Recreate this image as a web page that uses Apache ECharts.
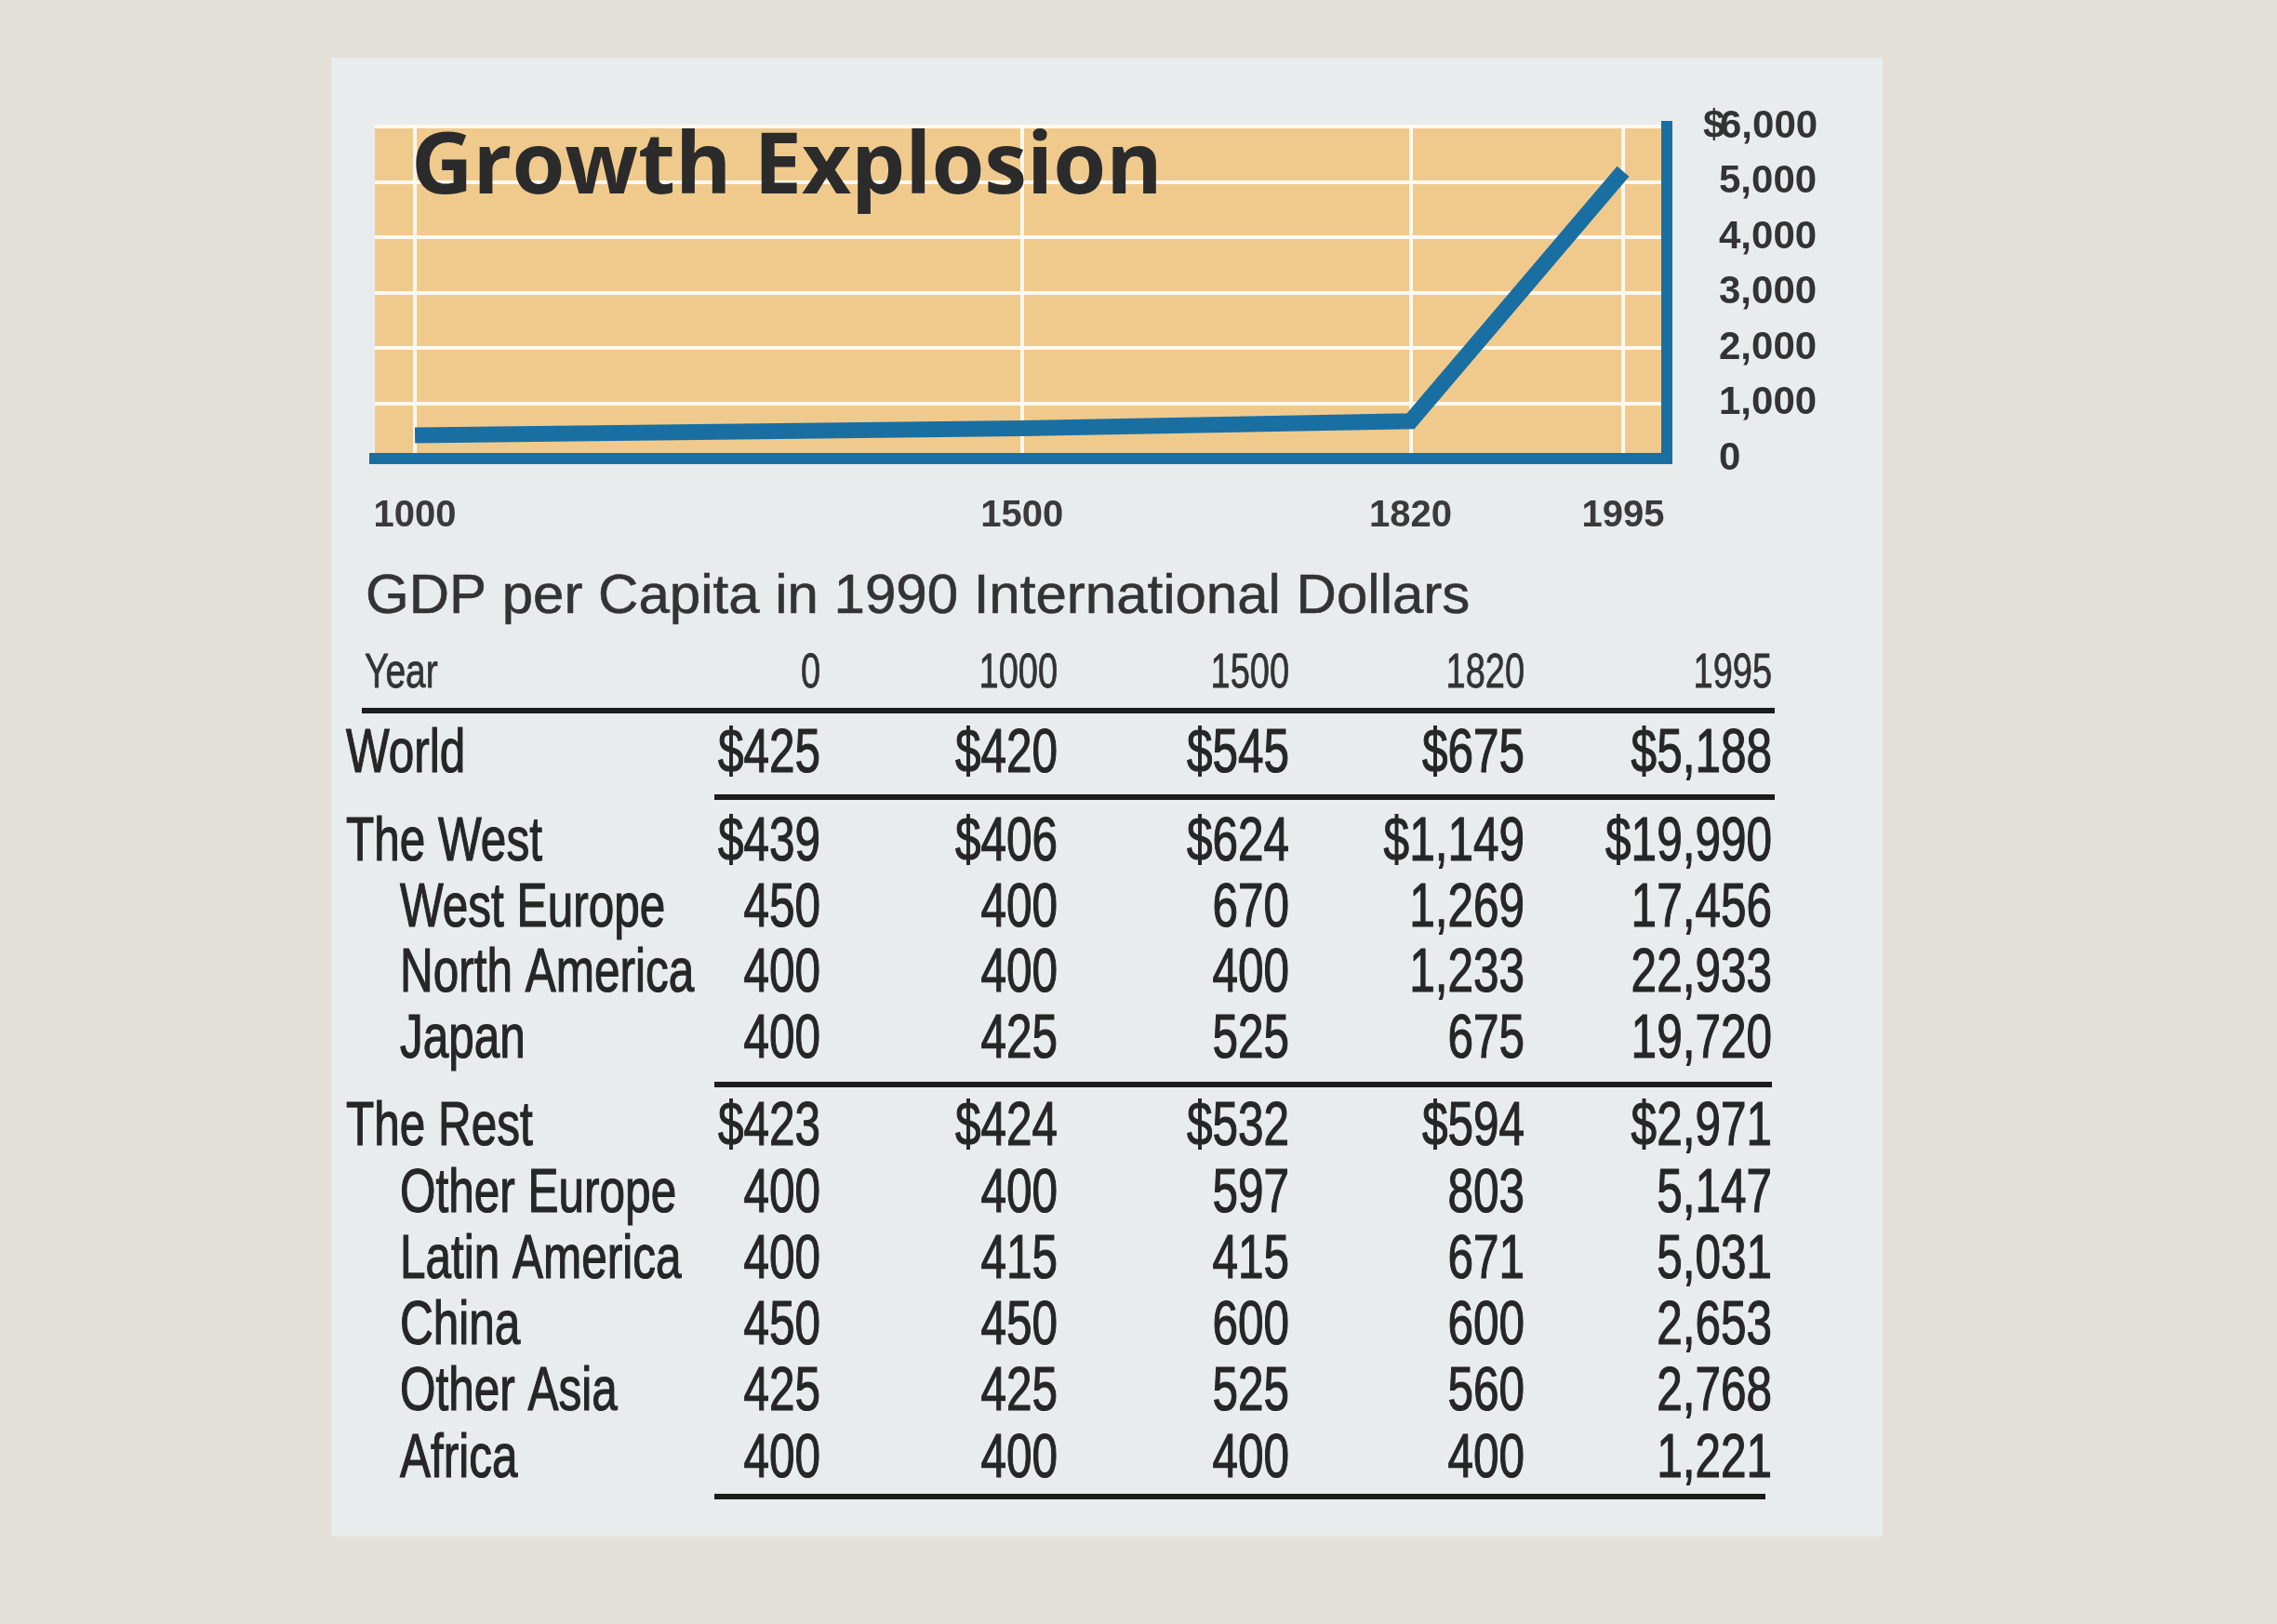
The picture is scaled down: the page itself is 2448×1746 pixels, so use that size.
<!DOCTYPE html>
<html>
<head>
<meta charset="utf-8">
<script src="https://cdn.jsdelivr.net/npm/echarts@6/dist/echarts.min.js"></script>
<style>
html,body{margin:0;padding:0;background:#e3e0d9;}
#c{width:2448px;height:1746px;}
</style>
</head>
<body>
<div id="c"></div>
<script>
// ---------- DATA ----------
const chartTitle = 'Growth Explosion';
const tableTitle = 'GDP per Capita in 1990 International Dollars';
const yearHeader = 'Year';
const years = [0, 1000, 1500, 1820, 1995];
const chartYears = [1000, 1500, 1820, 1995];
const rowNames = ['World', 'The West', 'West Europe', 'North America', 'Japan',
                  'The Rest', 'Other Europe', 'Latin America', 'China', 'Other Asia', 'Africa'];
const world        = [425, 420, 545, 675, 5188];
const theWest      = [439, 406, 624, 1149, 19990];
const westEurope   = [450, 400, 670, 1269, 17456];
const northAmerica = [400, 400, 400, 1233, 22933];
const japan        = [400, 425, 525, 675, 19720];
const theRest      = [423, 424, 532, 594, 2971];
const otherEurope  = [400, 400, 597, 803, 5147];
const latinAmerica = [400, 415, 415, 671, 5031];
const china        = [450, 450, 600, 600, 2653];
const otherAsia    = [425, 425, 525, 560, 2768];
const africa       = [400, 400, 400, 400, 1221];
const aggregateRows = ['World', 'The West', 'The Rest'];

// ---------- STYLE / LAYOUT ----------
const BLUE = '#1a6fa2';
const ORANGE = '#f0ca8d';
const GRIDW = '#fdf9f0';
const INK = '#262626';

const rowsData = [world, theWest, westEurope, northAmerica, japan, theRest,
                  otherEurope, latinAmerica, china, otherAsia, africa];
const rowY = [];
rowY.push(812);
for (let i = 0; i < 4; i++) rowY.push(907 + i * 70.5);
for (let i = 0; i < 6; i++) rowY.push(1213 + i * 71.3);
const colRight = [882, 1137, 1386, 1639, 1905];
const headerY = 725;
const bodyFont = '66px "Liberation Sans", Arial, sans-serif';
const headFont = '52px "Liberation Sans", Arial, sans-serif';
const squeeze = 0.75;

function fmt(v, dollar) {
  const s = v.toLocaleString('en-US');
  return dollar ? '$' + s : s;
}

const graphics = [];
// panel
graphics.push({type: 'rect', z: -10, shape: {x: 356, y: 62, width: 1668, height: 1590},
  style: {fill: '#e9ecec'}, silent: true});

// header
graphics.push({type: 'text', x: 392, y: headerY, scaleX: squeeze,
  style: {text: yearHeader, font: headFont, fill: '#333', stroke: '#333', lineWidth: 0.8,
          align: 'left', verticalAlign: 'middle'}});
years.forEach((yr, j) => {
  graphics.push({type: 'text', x: colRight[j], y: headerY, scaleX: 0.73,
    style: {text: String(yr), font: headFont, fill: '#333', stroke: '#333', lineWidth: 0.8,
            align: 'right', verticalAlign: 'middle'}});
});

// rows
rowNames.forEach((name, i) => {
  const agg = aggregateRows.indexOf(name) >= 0;
  graphics.push({type: 'text', x: agg ? 372 : 430, y: rowY[i], scaleX: squeeze,
    style: {text: name, font: bodyFont, fill: INK, stroke: INK, lineWidth: 1.2,
            align: 'left', verticalAlign: 'middle'}});
  rowsData[i].forEach((v, j) => {
    graphics.push({type: 'text', x: colRight[j], y: rowY[i], scaleX: squeeze,
      style: {text: fmt(v, agg), font: bodyFont, fill: INK, stroke: INK, lineWidth: 1.2,
              align: 'right', verticalAlign: 'middle'}});
  });
});

// rules
const rules = [[389, 764, 1908], [768, 857, 1908], [768, 1166, 1905], [768, 1609, 1898]];
rules.forEach(r => {
  graphics.push({type: 'line', shape: {x1: r[0], y1: r[1], x2: r[2], y2: r[1]},
    style: {stroke: '#1c1c1c', lineWidth: 6}});
});

const labelFont = {fontFamily: '"Liberation Sans", Arial, sans-serif', fontWeight: 'bold', fontSize: 42, color: '#333'};

const chart = echarts.init(document.getElementById('c'), null, {renderer: 'canvas'});
chart.setOption({
  backgroundColor: '#e3e0d9',
  animation: false,
  title: [
    {text: chartTitle, left: 442, top: 134, padding: 0,
     textStyle: {fontFamily: '"Open Sans", sans-serif', fontWeight: 'bold', fontSize: 92,
                 color: '#2b2b2b', lineHeight: 96}},
    {text: tableTitle, left: 393, top: 610, padding: 0,
     textStyle: {fontFamily: '"Liberation Sans", Arial, sans-serif', fontWeight: 'normal',
                 fontSize: 60, color: '#333', lineHeight: 64,
                 textBorderColor: '#333', textBorderWidth: 0.6}}
  ],
  grid: {left: 403, top: 136, width: 1389, height: 357, show: true,
         backgroundColor: ORANGE, borderWidth: 0, containLabel: false},
  xAxis: {
    type: 'value', min: 967, max: 2031,
    axisLine: {show: true, lineStyle: {color: BLUE, width: 12, cap: 'square'}},
    axisTick: {show: false, customValues: chartYears},
    axisLabel: {customValues: chartYears, formatter: v => String(v), margin: 42,
                fontFamily: '"Liberation Sans", Arial, sans-serif', fontWeight: 'bold',
                fontSize: 40, color: '#3a3a3a'},
    splitLine: {show: true, lineStyle: {color: GRIDW, width: 4}}
  },
  yAxis: {
    type: 'value', position: 'right', min: 0, max: 6000, interval: 1000,
    axisLine: {show: true, onZero: false, lineStyle: {color: BLUE, width: 12, cap: 'square'}},
    axisTick: {show: false},
    axisLabel: Object.assign({
      margin: 56,
      formatter: v => v === 6000 ? '{d|$ }' + v.toLocaleString('en-US') : v.toLocaleString('en-US'),
      rich: {d: Object.assign({width: 1, align: 'right'}, labelFont)}
    }, labelFont),
    splitLine: {show: true, lineStyle: {color: GRIDW, width: 4}}
  },
  series: [{
    type: 'line', z: 3,
    data: chartYears.map(y => [y, world[years.indexOf(y)]]),
    symbol: 'none',
    lineStyle: {color: BLUE, width: 17, cap: 'butt', join: 'miter'}
  }],
  graphic: {elements: graphics}
});
</script>
</body>
</html>
